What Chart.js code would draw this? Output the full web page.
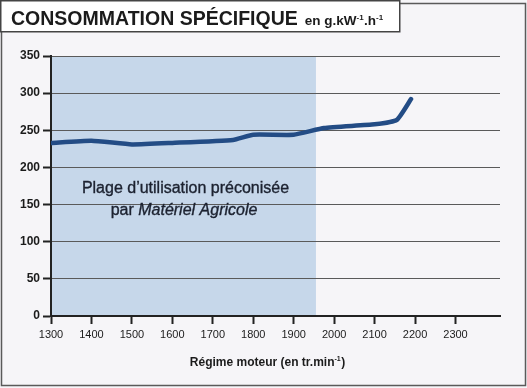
<!DOCTYPE html>
<html>
<head>
<meta charset="utf-8">
<script src="https://cdn.jsdelivr.net/npm/chart.js@4/dist/chart.umd.min.js"></script>
<style>
  html, body { margin: 0; padding: 0; background: #f6f5f8; }
  #wrap { width: 527px; height: 388px; }
</style>
</head>
<body>
<div id="wrap"><canvas id="conso" width="527" height="388"></canvas></div>
<script>
// régime moteur (tr/min) et consommation spécifique (g/kW.h)
var regime = [1300, 1400, 1500, 1600, 1750, 1800, 1900, 1975, 2100, 2155, 2190];
var conso  = [233, 236, 231, 233, 237, 244, 244, 253, 258, 264, 292];
var xTicks = [1300, 1400, 1500, 1600, 1700, 1800, 1900, 2000, 2100, 2200, 2300];
var yTicks = [0, 50, 100, 150, 200, 250, 300, 350];
var plageDebut = 1300;
var plageFin = 1955;
var titre = 'CONSOMMATION SPÉCIFIQUE';
var unite = ['en g.kW', '-1', '.h', '-1'];
var titreX = ['Régime moteur (en tr.min', '-1', ')'];
var note1 = 'Plage d\u2019utilisation préconisée';
var note2 = ['par ', 'Matériel Agricole'];

var fond = '#f6f5f8';
var bleuPlage = '#c6d7ea';
var bleuCourbe = '#234c85';
var encre = '#1b1b1b';

function morceaux(ctx, parts, x, y, big, small) {
  // texte avec exposants, parts alterne normal / exposant
  for (var i = 0; i < parts.length; i++) {
    var sup = i % 2 == 1;
    ctx.font = sup ? small : big;
    ctx.fillText(parts[i], x, sup ? y - 5 : y);
    x += ctx.measureText(parts[i]).width + (sup ? 0.5 : 0);
  }
  return x;
}
function largeur(ctx, parts, big, small) {
  var w = 0;
  for (var i = 0; i < parts.length; i++) {
    ctx.font = i % 2 == 1 ? small : big;
    w += ctx.measureText(parts[i]).width + (i % 2 == 1 ? 0.5 : 0);
  }
  return w;
}
function texteGras(ctx, t, x, y) {
  // un peu plus appuyé que le regular
  ctx.fillText(t, x, y);
  ctx.lineWidth = 0.35;
  ctx.strokeStyle = ctx.fillStyle;
  ctx.strokeText(t, x, y);
}

var decor = {
  id: 'decor',
  beforeDraw: function (chart) {
    var ctx = chart.ctx, a = chart.chartArea, x = chart.scales.x;
    ctx.save();
    ctx.fillStyle = fond;
    ctx.fillRect(0, 0, chart.width, chart.height);
    // plage préconisée
    var x0 = x.getPixelForValue(plageDebut), x1 = x.getPixelForValue(plageFin);
    ctx.fillStyle = bleuPlage;
    ctx.fillRect(x0, a.top, x1 - x0, a.bottom - a.top);
    ctx.restore();
  },
  afterDatasetsDraw: function (chart) {
    var ctx = chart.ctx;
    ctx.save();
    ctx.fillStyle = '#1c2230';
    ctx.textBaseline = 'alphabetic';
    var n = '16px "Liberation Sans", Arial, sans-serif';
    var it = 'italic 16px "Liberation Sans", Arial, sans-serif';
    ctx.font = n;
    var w = ctx.measureText(note1).width;
    texteGras(ctx, note1, 185.5 - w / 2, 193);
    ctx.font = n; var wa = ctx.measureText(note2[0]).width;
    ctx.font = it; var wb = ctx.measureText(note2[1]).width;
    var sx = 184 - (wa + wb) / 2;
    ctx.font = n; texteGras(ctx, note2[0], sx, 215);
    ctx.font = it; texteGras(ctx, note2[1], sx + wa, 215);
    ctx.restore();
  },
  afterDraw: function (chart) {
    var ctx = chart.ctx;
    ctx.save();
    // cadre général
    ctx.strokeStyle = '#5a5a5a';
    ctx.lineWidth = 1.5;
    ctx.strokeRect(1.5, 3.5, 524, 382);
    // cartouche du titre
    ctx.fillStyle = '#ffffff';
    ctx.fillRect(0, 0, 400, 32);
    ctx.strokeStyle = '#444';
    ctx.strokeRect(0.75, 0.75, 399, 31);
    ctx.fillStyle = encre;
    ctx.textBaseline = 'alphabetic';
    ctx.font = 'bold 19.5px "Liberation Sans", Arial, sans-serif';
    ctx.fillText(titre, 11, 25);
    var fx = 11 + ctx.measureText(titre).width + 7;
    morceaux(ctx, unite, fx, 25, 'bold 13.5px "Liberation Sans", Arial, sans-serif', 'bold 8px "Liberation Sans", Arial, sans-serif');
    // titre de l'axe x
    var big = 'bold 12px "Liberation Sans", Arial, sans-serif';
    var small = 'bold 7px "Liberation Sans", Arial, sans-serif';
    var tw = largeur(ctx, titreX, big, small);
    morceaux(ctx, titreX, 267.5 - tw / 2, 366, big, small);
    ctx.restore();
  }
};

new Chart(document.getElementById('conso'), {
  type: 'line',
  data: {
    datasets: [{
      data: regime.map(function (r, i) { return { x: r, y: conso[i] }; }),
      borderColor: bleuCourbe,
      borderWidth: 4.5,
      pointRadius: 0,
      tension: 0.15,
      fill: false,
      borderCapStyle: 'round',
      borderJoinStyle: 'round'
    }]
  },
  options: {
    responsive: false,
    animation: false,
    layout: { padding: { top: 56, right: 27, bottom: 0, left: 0 } },
    plugins: { legend: { display: false }, tooltip: { enabled: false }, title: { display: false } },
    scales: {
      x: {
        type: 'linear',
        min: 1300,
        max: 2410,
        afterBuildTicks: function (s) {
          s.ticks = xTicks.map(function (v) { return { value: v }; });
        },
        afterFit: function (s) { s.height = 72; },
        ticks: {
          padding: 4,
          color: encre,
          maxRotation: 0,
          autoSkip: false,
          font: { family: '"Liberation Sans Narrow", "Liberation Sans", Arial, sans-serif', size: 11 },
          callback: function (v) { return String(v); }
        },
        grid: { drawOnChartArea: false, tickLength: 8, tickColor: '#222', tickWidth: 2 },
        border: { display: true, color: '#222', width: 2 }
      },
      y: {
        min: 0,
        max: 350,
        afterBuildTicks: function (s) {
          s.ticks = yTicks.map(function (v) { return { value: v }; });
        },
        afterFit: function (s) { s.width = 51; },
        ticks: {
          padding: 3,
          color: encre,
          font: { family: '"Liberation Sans", Arial, sans-serif', size: 12, weight: 'bold' }
        },
        grid: { color: '#5a5a5a', lineWidth: 1, tickLength: 8, tickColor: '#222', tickWidth: 2 },
        border: { display: true, color: '#222', width: 2 }
      }
    }
  },
  plugins: [decor]
});
</script>
</body>
</html>
